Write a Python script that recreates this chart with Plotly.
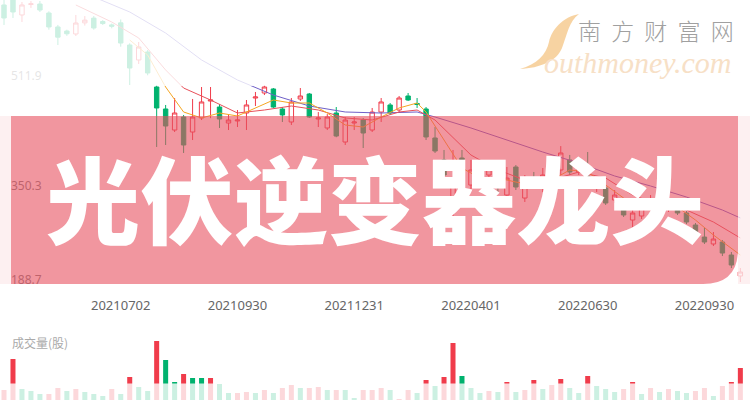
import plotly.graph_objects as go

W, H = 750, 400

# ---------------- data ----------------
week_idx = list(range(83))
tick_idx = [13, 26, 39, 52, 65, 78]
tick_lbl = ["20210702", "20210930", "20211231", "20220401", "20220630", "20220930"]
price_lbl = ["511.9", "350.3", "188.7"]

opens = [616.3, 635.0, 601.6, 617.0, 617.7, 604.5, 584.0, 578.0, 573.7, 590.0,
         597.0, 592.0, 587.0, 590.0, 557.5, 535.5, 547.2, 495.8, 463.5, 432.6,
         451.7, 429.7, 450.3, 475.2, 466.4, 442.9, 445.9, 457.6, 479.6, 487.0,
         492.9, 463.5, 444.4, 478.2, 485.5, 448.8, 435.6, 457.6, 415.0, 442.9,
         447.3, 432.6, 459.0, 469.4, 462.0, 482.6, 471.6, 463.5, 420.9, 388.6,
         329.8, 391.5, 351.8, 371.0, 366.5, 356.2, 337.1, 378.3, 332.7, 362.0,
         347.4, 347.4, 373.9, 388.6, 371.0, 365.0, 354.8, 347.4, 329.8, 325.4,
         300.4, 306.3, 325.4, 329.8, 316.6, 322.5, 310.7, 293.1, 275.4, 265.2,
         268.1, 249.0, 218.2]
highs = [628.0, 645.0, 620.7, 622.0, 622.1, 607.0, 587.0, 580.0, 601.6, 600.0,
         600.0, 594.0, 589.0, 595.0, 560.0, 561.9, 550.0, 498.7, 469.4, 479.6,
         454.7, 478.2, 495.8, 495.8, 470.8, 454.7, 462.0, 476.7, 488.5, 498.7,
         494.3, 466.4, 479.6, 494.3, 487.0, 459.0, 456.0, 466.4, 451.7, 451.7,
         450.3, 465.0, 479.6, 472.3, 482.6, 487.0, 479.6, 466.4, 437.0, 403.3,
         403.3, 403.3, 388.6, 376.8, 385.6, 362.0, 378.3, 381.2, 366.5, 371.0,
         376.8, 393.0, 409.0, 396.0, 391.5, 400.3, 362.0, 351.8, 344.5, 329.8,
         316.6, 325.4, 337.1, 334.2, 329.8, 326.9, 313.6, 296.0, 288.7, 282.8,
         271.0, 253.4, 229.9]
lows = [586.9, 597.2, 591.3, 612.0, 606.0, 580.0, 557.5, 571.0, 570.7, 586.0,
        580.0, 587.0, 582.0, 555.0, 498.7, 529.6, 513.0, 407.7, 410.6, 429.7,
        398.9, 417.9, 447.3, 450.0, 435.6, 432.6, 437.0, 432.6, 467.9, 484.0,
        465.0, 444.4, 440.0, 475.2, 450.3, 437.0, 432.6, 422.0, 410.6, 432.6,
        406.2, 429.7, 444.4, 454.7, 459.0, 475.2, 465.0, 417.9, 398.9, 362.0,
        304.8, 344.5, 344.5, 347.4, 359.2, 341.6, 325.4, 344.5, 326.9, 350.4,
        341.6, 341.6, 366.5, 366.5, 366.5, 350.4, 341.6, 322.5, 325.4, 304.8,
        290.1, 301.9, 319.5, 316.6, 312.2, 307.8, 294.5, 272.5, 265.2, 262.2,
        247.5, 229.9, 209.3]
closes = [597.2, 606.0, 616.3, 618.0, 608.9, 584.0, 569.0, 574.0, 589.8, 594.0,
          582.5, 589.0, 585.0, 560.4, 523.7, 554.6, 516.4, 465.0, 438.5, 457.6,
          410.6, 451.7, 473.8, 476.7, 448.8, 447.3, 447.3, 469.4, 481.1, 495.8,
          466.4, 454.7, 473.8, 482.6, 451.7, 450.3, 451.7, 423.8, 447.3, 444.4,
          428.2, 459.0, 473.8, 457.6, 479.6, 476.7, 470.1, 422.4, 401.8, 366.5,
          359.2, 359.2, 373.9, 356.2, 376.8, 348.9, 362.0, 348.9, 359.2, 354.8,
          366.5, 363.6, 398.9, 371.0, 385.6, 354.8, 356.2, 325.4, 337.1, 307.8,
          310.7, 321.0, 329.8, 321.0, 324.0, 310.7, 297.5, 275.4, 268.1, 272.5,
          251.9, 234.3, 224.0]

volume = [100, 410, 110, 90, 60, 60, 120, 90, 110, 80,
          60, 40, 110, 60, 230, 130, 90, 590, 400, 180,
          260, 220, 220, 220, 160, 70, 70, 80, 70, 100,
          70, 120, 150, 120, 120, 130, 100, 100, 100, 20,
          100, 100, 120, 100, 10, 100, 70, 200, 140, 230,
          570, 240, 120, 70, 90, 80, 180, 80, 100, 200,
          110, 150, 210, 120, 70, 240, 140, 110, 80, 110,
          180, 60, 120, 80, 110, 90, 70, 90, 120, 40,
          140, 180, 320]
vol_up = [1, 1, 0, 0, 0, 1, 1, 0, 1, 0,
          0, 0, 1, 0, 1, 0, 0, 1, 0, 0,
          1, 0, 0, 1, 0, 0, 1, 1, 0, 1,
          0, 1, 1, 0, 1, 1, 0, 1, 0, 0,
          1, 1, 1, 0, 1, 1, 0, 1, 0, 1,
          1, 0, 0, 0, 1, 0, 1, 0, 1, 1,
          0, 1, 1, 0, 0, 1, 0, 0, 0, 1,
          1, 0, 1, 0, 1, 0, 0, 1, 1, 0,
          1, 1, 1]

ma5_x = [14, 16, 18, 19, 20, 22, 24, 26, 28, 30, 32, 34, 36, 38, 40, 42, 44, 46, 47, 49,
         51, 53, 55, 57, 59, 61, 63, 65, 67, 69, 71, 73, 75, 77, 79, 81, 82]
ma5_y = [564.8, 542.8, 495.8, 476.7, 459.1, 450.3, 457.6, 453.2, 465.0, 476.7,
         472.3, 472.3, 457.6, 440.0, 437.0, 451.7, 465.0, 472.3, 459.1, 417.9,
         376.8, 362.1, 362.1, 356.2, 351.8, 359.2, 373.9, 370.9, 351.8, 332.7,
         318.0, 321.0, 319.5, 300.4, 278.4, 259.3, 249.0]
ma10_x = [8, 12, 15, 18, 20, 23, 26, 29, 32, 35, 38, 41, 44, 46, 48, 50, 52, 55, 58,
          61, 64, 67, 70, 73, 76, 79, 82]
ma10_y = [616.3, 591.3, 567.8, 520.8, 494.3, 476.7, 457.6, 462.0, 467.9, 462.0,
          450.3, 447.3, 459.1, 462.0, 447.3, 420.9, 395.9, 373.9, 359.2, 359.2,
          370.9, 362.1, 337.1, 322.5, 315.1, 297.5, 274.0]
ma20_x = [8, 10, 14, 18, 22, 26, 30, 34, 38, 42, 46, 48, 52, 56, 60, 64, 68, 72, 76, 80, 82]
ma20_y = [641.0, 628.0, 606.0, 575.1, 535.5, 506.1, 484.0, 467.9, 459.1, 457.6,
          459.1, 451.7, 435.6, 417.9, 400.3, 384.2, 365.1, 350.4, 334.2, 315.1, 303.4]

# ---------------- geometry helpers (pixel -> paper) ----------------
def X(x):
    return x / W

def Y(y):
    return 1 - y / H

Y_TOP, Y_BOT = 623.6, 188.8      # price at pixel y=0 and y=296
PRICE_BOTTOM_PX = 296
VOL_TOP_PX = 336
VOL_MAX = 640

RED = "#F03C4B"
GREEN = "#00B26E"

fig = go.Figure()

fig.add_trace(go.Candlestick(
    x=week_idx, open=opens, high=highs, low=lows, close=closes,
    increasing=dict(line=dict(color=RED, width=1), fillcolor="white"),
    decreasing=dict(line=dict(color=GREEN, width=1), fillcolor=GREEN),
    xaxis="x", yaxis="y", showlegend=False, hoverinfo="skip"))

for xs, ys, col in [(ma20_x, ma20_y, "#7060C8"), (ma10_x, ma10_y, "#E8505A"),
                    (ma5_x, ma5_y, "#F5A623")]:
    fig.add_trace(go.Scatter(x=xs, y=ys, mode="lines", line=dict(color=col, width=1),
                             xaxis="x", yaxis="y", showlegend=False, hoverinfo="skip"))

fig.add_trace(go.Bar(
    x=week_idx, y=volume, width=0.56,
    marker=dict(color=[RED if u else GREEN for u in vol_up], line_width=0),
    xaxis="x2", yaxis="y2", showlegend=False, hoverinfo="skip"))

xr = [-4 / 8.98, (W - 4) / 8.98]
lbl_low_pos = Y_BOT + 16 * (Y_TOP - Y_BOT) / PRICE_BOTTOM_PX

fig.update_layout(
    width=W, height=H, margin=dict(l=0, r=0, t=0, b=0),
    paper_bgcolor="white", plot_bgcolor="white",
    xaxis=dict(domain=[0, 1], range=xr, anchor="y", showgrid=False, zeroline=False,
               showline=False, rangeslider=dict(visible=False),
               tickmode="array", tickvals=tick_idx, ticktext=tick_lbl, ticks="",
               tickfont=dict(family="Noto Sans", size=13, color="#666666")),
    yaxis=dict(domain=[Y(PRICE_BOTTOM_PX), 1], range=[Y_BOT, Y_TOP], showgrid=False,
               zeroline=False, showline=False, tickmode="array",
               tickvals=[511.9, 350.3, lbl_low_pos], ticktext=price_lbl,
               ticklabelposition="inside", ticks="", ticklabelstandoff=8,
               tickfont=dict(family="Noto Sans", size=12, color="#808080")),
    xaxis2=dict(domain=[0, 1], range=xr, anchor="y2", showgrid=False, zeroline=False,
                showline=False, showticklabels=False),
    yaxis2=dict(domain=[0, Y(VOL_TOP_PX)], range=[0, VOL_MAX], showgrid=False,
                zeroline=False, showline=False, showticklabels=False),
)

shapes = []
# faded areas (white veil)
shapes.append(dict(type="rect", xref="paper", yref="paper", x0=X(0), x1=X(W), y0=Y(86), y1=Y(0),
                   fillcolor="rgba(255,255,255,0.8)", line_width=0, layer="above"))
shapes.append(dict(type="rect", xref="paper", yref="paper", x0=X(0), x1=X(W), y0=Y(H), y1=Y(383.5),
                   fillcolor="rgba(255,255,255,0.8)", line_width=0, layer="above"))
# pink banner with rounded lower-right corner
banner = (f"M {X(11)},{Y(116)} L {X(738)},{Y(116)} L {X(738)},{Y(249)} "
          f"Q {X(738)},{Y(284)} {X(703)},{Y(284)} L {X(11)},{Y(284)} Z")
shapes.append(dict(type="path", xref="paper", yref="paper", path=banner,
                   fillcolor="rgba(232,80,95,0.6)", line_width=0, layer="above"))
# light strips at both ends of the banner
for x0, x1 in [(0, 11), (738, W)]:
    shapes.append(dict(type="rect", xref="paper", yref="paper", x0=X(x0), x1=X(x1),
                       y0=Y(284), y1=Y(116), fillcolor="rgba(252,236,238,0.8)",
                       line_width=0, layer="above"))
# logo swoosh
sw = (f"M {X(579)},{Y(14)} C {X(563)},{Y(17)} {X(552)},{Y(29)} {X(549)},{Y(42)} "
      f"C {X(546)},{Y(55)} {X(537)},{Y(64)} {X(520)},{Y(69)} "
      f"C {X(540)},{Y(68)} {X(557)},{Y(61)} {X(562)},{Y(48)} "
      f"C {X(567)},{Y(35)} {X(569)},{Y(21)} {X(579)},{Y(14)} Z")
shapes.append(dict(type="path", xref="paper", yref="paper", path=sw,
                   fillcolor="rgba(246,203,146,0.85)", line_width=0, layer="above"))
fig.update_layout(shapes=shapes)

ann = []
ann.append(dict(text="光伏逆变器龙头", xref="paper", yref="paper", x=X(375), y=Y(196),
                xanchor="center", yanchor="middle", showarrow=False,
                font=dict(family="Noto Sans CJK SC", size=94, color="white", weight=900)))
ann.append(dict(text="南  方  财  富  网", xref="paper", yref="paper", x=X(656), y=Y(30),
                xanchor="center", yanchor="middle", showarrow=False, borderpad=0,
                font=dict(family="Noto Sans CJK SC", size=23, color="#a0a0a0", weight=300)))
ann.append(dict(text="<i>outhmoney.com</i>", xref="paper", yref="paper", x=X(543), y=Y(63),
                xanchor="left", yanchor="middle", showarrow=False, borderpad=0,
                font=dict(family="Liberation Serif", size=30, color="#F7E0C6")))
ann.append(dict(text="成交量(股)", xref="paper", yref="paper", x=X(10), y=Y(342),
                xanchor="left", yanchor="middle", showarrow=False,
                font=dict(family="Noto Sans CJK SC", size=12, color="#aaaaaa")))
fig.update_layout(annotations=ann)

fig.write_html("out.html", config={"displayModeBar": False},
               post_script="document.body.style.margin='0px';")
